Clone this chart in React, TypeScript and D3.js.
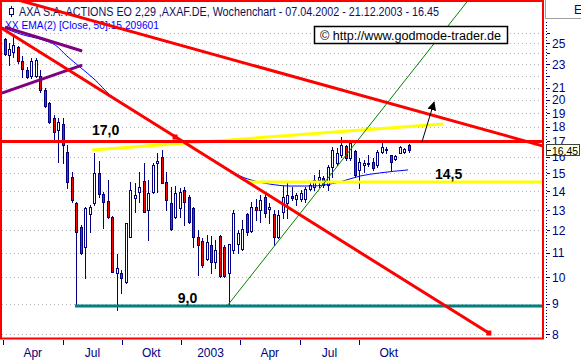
import React, { useEffect } from 'react';
import * as d3 from 'd3';

// weekly candles, one per week from Apr 2002 to Dec 2003 (index = week)
const opens = [
  25.39, 23.85, 24.13, 24.61, 23.3, 22.49, 21.97, 21.97, 21.97, 20.8,
  19.76, 18.64, 17.78, 18.2, 16.31, 14.79, 13.36, 12.17, 11.25, 12.8,
  13.36, 15.03, 13.85, 13.47, 12.65, 10.16, 10.16, 9.8, 11.7, 13.63,
  13.96, 14.57, 13.0, 13.96, 15.62, 15.99, 14.51, 13.36, 12.65, 13.1,
  14.06, 13.68, 13.1, 11.7, 11.52, 10.73, 11.34, 10.61, 11.74, 11.25,
  10.16, 11.11, 11.38, 11.16, 12.8, 11.97, 13.16, 13.0, 13.68, 13.05,
  12.8, 11.7, 12.9, 13.36, 13.74, 13.57, 13.57, 13.57, 14.11, 14.23,
  14.62, 14.74, 14.34, 15.38, 15.62, 16.12, 16.7, 15.93, 16.38, 15.21,
  15.5, 15.56, 15.68, 15.5, 16.31, 16.44, 16.12, 15.87, 16.25, 16.31,
  16.77,
];
const highs = [
  25.49, 25.0, 25.79, 24.7, 23.76, 22.75, 23.57, 23.57, 22.49, 20.96,
  19.84, 18.86, 18.64, 18.64, 16.77, 15.09, 13.42, 12.26, 13.16, 13.26,
  16.25, 15.75, 13.96, 14.62, 12.7, 10.94, 10.28, 12.36, 14.51, 14.45,
  15.09, 15.62, 14.62, 15.62, 16.25, 16.44, 15.09, 14.23, 14.28, 14.17,
  14.23, 13.79, 13.16, 12.02, 11.65, 11.79, 11.74, 11.56, 11.79, 11.34,
  11.38, 13.0, 12.02, 12.5, 12.85, 13.42, 13.57, 13.79, 13.9, 13.36,
  13.0, 13.0, 14.28, 14.45, 14.23, 13.9, 14.06, 14.23, 14.45, 14.91,
  15.21, 14.85, 15.5, 16.64, 16.57, 17.3, 16.77, 17.1, 16.44, 15.93,
  15.81, 16.12, 15.93, 16.44, 16.97, 16.64, 16.12, 16.12, 16.7, 16.57,
  16.84,
];
const lows = [
  23.85, 22.93, 23.66, 23.11, 21.89, 21.8, 21.8, 21.89, 20.64, 19.46,
  18.27, 17.1, 15.68, 15.62, 14.17, 13.42, 8.93, 10.94, 9.96, 11.93,
  13.26, 13.68, 12.12, 12.6, 10.2, 8.79, 9.39, 9.77, 11.7, 12.9,
  13.42, 12.9, 11.56, 13.9, 13.96, 14.45, 13.0, 12.02, 12.6, 12.65,
  12.26, 12.36, 11.25, 10.08, 10.4, 10.69, 10.16, 10.36, 10.0, 10.0,
  8.93, 10.98, 10.98, 11.11, 11.79, 11.93, 12.5, 12.4, 12.65, 12.36,
  11.34, 11.65, 12.6, 12.6, 13.52, 13.26, 13.47, 13.42, 14.06, 14.06,
  14.23, 14.23, 14.06, 14.79, 15.5, 15.99, 15.81, 15.81, 14.79, 14.17,
  15.09, 15.44, 15.21, 15.38, 16.25, 16.25, 15.21, 15.81, 16.25, 16.25,
  16.31,
];
const closes = [
  23.94, 24.41, 24.8, 23.3, 22.58, 21.89, 23.3, 23.39, 20.8, 19.53,
  18.35, 17.64, 18.35, 16.77, 14.51, 13.52, 11.93, 10.98, 13.1, 13.16,
  15.03, 13.85, 13.42, 12.65, 10.2, 10.36, 9.96, 12.36, 14.06, 13.79,
  14.23, 12.9, 13.9, 15.5, 15.75, 14.45, 13.52, 12.07, 13.9, 13.96,
  13.42, 12.4, 11.7, 11.34, 10.48, 11.47, 10.61, 11.11, 10.04, 10.04,
  11.38, 12.85, 11.88, 12.07, 11.93, 13.16, 13.0, 13.52, 12.85, 13.16,
  11.7, 12.75, 13.68, 13.79, 13.63, 13.79, 13.9, 14.11, 14.34, 14.62,
  14.79, 14.34, 15.38, 16.44, 16.25, 16.77, 15.93, 16.9, 14.91, 15.68,
  15.62, 15.62, 15.32, 16.31, 16.64, 16.51, 15.68, 16.06, 16.64, 16.51,
  16.45,
];

// EMA(50)
const emaWeeks = [-0.6, 3.5, 8.6, 11.3, 13.9, 16.8, 20.2, 23.5, 28, 32.4, 36.9, 41.3, 45.8, 49.1, 52.5, 55.8, 59.1, 63.6, 68.1, 71.4, 74.7, 79.2, 83.6, 89.9];
const emaValues = [26.61, 25.89, 25.29, 24.8, 23.76, 22.76, 21.63, 20.4, 19.38, 18.42, 17.57, 16.7, 15.94, 15.38, 14.85, 14.56, 14.39, 14.28, 14.28, 14.34, 14.51, 14.85, 15.03, 15.21];

// drawn trend lines (week, price endpoints)
const res17Weeks = [-1, 121];
const res17Prices = [17.0, 17.0];
const sup145Weeks = [54, 121];
const sup145Prices = [14.5, 14.5];
const sup9Weeks = [15.7, 121];
const sup9Prices = [8.93, 8.93];
const steepWeeks = [-1, 107.9];
const steepPrices = [26.61, 8.03];
const steepMarkWeeks = [38.0, 107.9];
const steepMarkPrices = [17.3, 8.03];
const longWeeks = [-1, 120];
const longPrices = [30.17, 16.7];
const upWeeks = [49.6, 103.0];
const upPrices = [8.93, 29.35];
const yellowWeeks = [19.5, 97.7];
const yellowPrices = [16.44, 18.2];
const purpleAWeeks = [0.1, 17.3];
const purpleAPrices = [26.61, 24.23];
const purpleBWeeks = [-0.6, 17.3];
const purpleBPrices = [20.55, 22.93];
const arrowWeeks = [93.0, 95.7];
const arrowPrices = [16.97, 19.84];

const levelLabels = ['17,0', '14,5', '9,0'];
const levelLabelWeeks = [19.5, 95.9, 38.6];
const levelLabelPrices = [17.44, 14.68, 9.03];

const gridPrices = [8, 9, 10, 11, 12, 13, 14, 15, 16, 17, 18, 19, 20, 21, 22, 23, 24, 25, 26];
const priceTicks = [8, 9, 10, 11, 12, 13, 14, 15, 16, 17, 18, 19, 20, 21, 23, 25];
const lastPrice = 16.45;

const monthTickWeeks = [-0.3, 13, 26.2, 39.3, 52.5, 65.8, 79];
const monthLabelWeeks = [6.3, 19.6, 32.7, 45.9, 59.1, 72.4, 85.6];
const monthLabels = ['Apr', 'Jul', 'Okt', '2003', 'Apr', 'Jul', 'Okt'];

const title = 'AXA S.A. ACTIONS EO 2,29 ,AXAF.DE, Wochenchart - 07.04.2002 - 21.12.2003 - 16.45';
const emaTitle = 'XX EMA(2) [Close, 50]:15,209601';

const W = 581;
const H = 362;
const font = '"Liberation Sans", Arial, sans-serif';
const navy = '#000080';

const App = () => {
  useEffect(() => {
    document.body.style.margin = '0';
  }, []);

  const x = d3.scaleLinear().domain([0, 90]).range([4.5, 408.5]);
  const y = d3.scaleLog().domain([8, 25]).range([334, 43]);

  const line = d3
    .line<[number, number]>()
    .x((d) => x(d[0]))
    .y((d) => y(d[1]));
  const seg = (weeks, prices) => line(d3.zip(weeks, prices) as [number, number][]);
  const emaPath = d3
    .line<[number, number]>()
    .x((d) => x(d[0]))
    .y((d) => y(d[1]))
    .curve(d3.curveMonotoneX)(d3.zip(emaWeeks, emaValues) as [number, number][]);

  const candles = opens.map((o, i) => {
    const c = closes[i];
    const a = Math.round(x(i)) - 1;
    const top = Math.round(y(Math.max(o, c)));
    const bot = Math.round(y(Math.min(o, c)));
    return (
      <g key={i}>
        <line x1={a + 1.5} x2={a + 1.5} y1={Math.round(y(highs[i]))} y2={Math.round(y(lows[i])) + 1} stroke={navy} strokeWidth={1} />
        <rect x={a + 0.5} y={top + 0.5} width={2} height={Math.max(1, bot - top)} fill={c < o ? '#ff0000' : '#ffffff'} stroke={navy} strokeWidth={1} />
      </g>
    );
  });

  const lastY = Math.round(y(lastPrice));

  return (
    <svg width={W} height={H} style={{ display: 'block', background: '#fff' }}>
      <defs>
        <clipPath id="plotClip">
          <rect x={1} y={1} width={542} height={337.5} />
        </clipPath>
        <marker id="arrowHead" viewBox="0 0 10 10" refX={9} refY={5} markerWidth={9} markerHeight={9} markerUnits="userSpaceOnUse" orient="auto">
          <path d="M0,0 L10,5 L0,10 z" fill="#000" />
        </marker>
      </defs>
      <rect x={0} y={0} width={W} height={H} fill="#fff" />

      <g clipPath="url(#plotClip)">
        {gridPrices.map((p) => (
          <line key={p} x1={2} x2={542} y1={Math.round(y(p)) + 0.5} y2={Math.round(y(p)) + 0.5} stroke="#b4b4b4" strokeDasharray="1,3" />
        ))}

        <text x={19} y={16} fontFamily={font} fontSize={12} fill="#101060" textLength={420} lengthAdjust="spacingAndGlyphs">
          {title}
        </text>
        <g stroke={navy} fill="none">
          <line x1={11.5} x2={11.5} y1={6} y2={17} />
          <rect x={9.5} y={8.5} width={4} height={6} fill="#fff" />
        </g>
        <text x={5} y={29} fontFamily={font} fontSize={11.5} fill="#0000ff" textLength={154} lengthAdjust="spacingAndGlyphs">
          {emaTitle}
        </text>

        {candles}

        <path d={emaPath} fill="none" stroke="#0000ff" strokeWidth={1} />
        <path d={seg(purpleAWeeks, purpleAPrices)} stroke="#800080" strokeWidth={3} fill="none" />
        <path d={seg(purpleBWeeks, purpleBPrices)} stroke="#800080" strokeWidth={3} fill="none" />
        <path d={seg(yellowWeeks, yellowPrices)} stroke="#ffff00" strokeWidth={3} fill="none" />
        <path d={seg(sup145Weeks, sup145Prices)} stroke="#ffff00" strokeWidth={3} fill="none" />
        <path d={seg(sup9Weeks, sup9Prices)} stroke="#008080" strokeWidth={3} fill="none" />
        <path d={seg(upWeeks, upPrices)} stroke="#008000" strokeWidth={1} fill="none" />
        <path d={seg(res17Weeks, res17Prices)} stroke="#ff0000" strokeWidth={3} fill="none" />
        <path d={seg(longWeeks, longPrices)} stroke="#ff0000" strokeWidth={3} fill="none" />
        <path d={seg(steepWeeks, steepPrices)} stroke="#ff0000" strokeWidth={3} fill="none" />
        {steepMarkWeeks.map((w, i) => (
          <rect key={i} x={x(w) - 2.5} y={y(steepMarkPrices[i]) - 2.5} width={5} height={5} fill="#ff0000" />
        ))}

        {levelLabels.map((t, i) => (
          <text key={t} x={x(levelLabelWeeks[i])} y={y(levelLabelPrices[i])} fontFamily={font} fontWeight="bold" fontSize={14} fill="#000">
            {t}
          </text>
        ))}

        <path d={seg(arrowWeeks, arrowPrices)} stroke="#000" strokeWidth={1} fill="none" markerEnd="url(#arrowHead)" />

        <rect x={314.5} y={26.5} width={193} height={17} fill="#fff" stroke="#000" strokeWidth={1.5} />
        <text x={320} y={39.5} fontFamily={font} fontSize={12.5} fill="#000" textLength={181} lengthAdjust="spacingAndGlyphs">
          © http://www.godmode-trader.de
        </text>
      </g>

      {/* plot frame */}
      <rect x={1} y={1} width={542} height={337.5} fill="none" stroke="#ff0000" strokeWidth={2} />

      {/* price axis */}
      <rect x={545.5} y={-1} width={40} height={19.5} fill="#fff" stroke="#a0a0a0" />
      <text x={574} y={14} fontFamily={font} fontSize={12} fill={navy}>
        E
      </text>
      <line x1={546.5} x2={546.5} y1={22} y2={338} stroke={navy} strokeDasharray="1,2" />
      {gridPrices.map((p) => (
        <line key={p} x1={547} x2={550} y1={Math.round(y(p)) + 0.5} y2={Math.round(y(p)) + 0.5} stroke={navy} />
      ))}
      {priceTicks.map((p) => (
        <text key={p} x={552} y={y(p) + 4.5} fontFamily={font} fontSize={12} fill={navy}>
          {p}
        </text>
      ))}
      <rect x={546.5} y={lastY - 5.5} width={33} height={11} fill="#ffffe1" stroke="#404040" />
      <line x1={547} x2={551} y1={lastY + 0.5} y2={lastY + 0.5} stroke="#000" />
      <text x={552} y={lastY + 4.5} fontFamily={font} fontSize={11} fill="#000" textLength={26} lengthAdjust="spacingAndGlyphs">
        {lastPrice.toFixed(2)}
      </text>

      {/* time axis */}
      {monthTickWeeks.map((w, i) => (
        <line key={i} x1={Math.round(x(w)) + 0.5} x2={Math.round(x(w)) + 0.5} y1={340} y2={345} stroke={navy} />
      ))}
      {monthLabels.map((t, i) => (
        <text key={i} x={x(monthLabelWeeks[i])} y={357} textAnchor="middle" fontFamily={font} fontSize={12} fill={navy}>
          {t}
        </text>
      ))}
    </svg>
  );
};

export default App;
